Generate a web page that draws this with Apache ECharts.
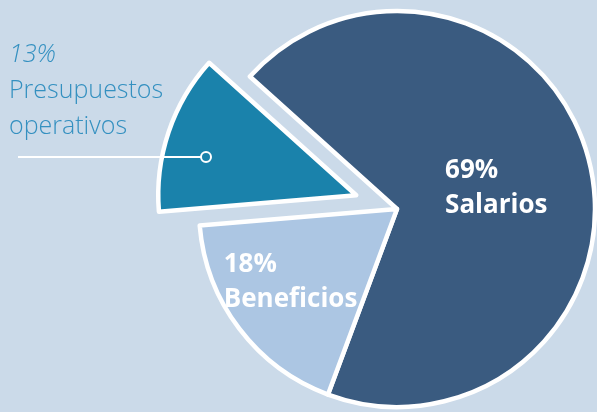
<!DOCTYPE html>
<html>
<head>
<meta charset="utf-8">
<script src="https://cdn.jsdelivr.net/npm/echarts@6/dist/echarts.min.js"></script>
<style>
  html, body { margin: 0; padding: 0; background: #cbdae9; }
  #chart { width: 597px; height: 412px; }
</style>
</head>
<body>
<div id="chart"></div>
<script>
// datos del gráfico
var categories = ['Salarios', 'Beneficios', 'Presupuestos operativos'];
var shares = [69, 18, 13];
var colors = ['#3a5b80', '#acc6e3', '#1a82ab'];
var explodedIndex = 2;

var labelTeal = '#3490c0';
var labelWidths = [108, 136];

function insideLabel(width) {
  return {
    show: true,
    position: 'inside',
    formatter: function (p) { return '{a|' + p.value + '%}\n{a|' + p.name + '}'; },
    rich: {
      a: { color: '#fff', fontFamily: 'Open Sans', fontWeight: 'bold', fontSize: 26, lineHeight: 35, width: width, align: 'left' }
    }
  };
}

var pieData = categories.map(function (name, i) {
  return {
    name: name,
    value: shares[i],
    selected: i === explodedIndex,
    itemStyle: { color: colors[i] },
    label: i === explodedIndex ? { show: false } : insideLabel(labelWidths[i]),
    labelLine: { show: false }
  };
});

// texto de la porción separada, fuera del pastel
var outsideText = '{i|' + shares[explodedIndex] + '%}\n' +
  categories[explodedIndex].split(' ').map(function (w) { return '{t|' + w + '}'; }).join('\n');

var myChart = echarts.init(document.getElementById('chart'));
myChart.setOption({
  animation: false,
  backgroundColor: '#cbdae9',
  series: [{
    type: 'pie',
    center: [397, 209],
    radius: 198,
    startAngle: 138,
    clockwise: true,
    selectedMode: 'single',
    selectedOffset: 43,
    emphasis: { disabled: true },
    itemStyle: { borderColor: '#fff', borderWidth: 4.5 },
    data: pieData,
    labelLayout: function (p) {
      if (p.dataIndex === 1) return { dx: -24, dy: 11 };
      return { dx: 3, dy: 3 };
    }
  }],
  graphic: [
    {
      type: 'text',
      left: 9,
      top: 42,
      style: {
        text: outsideText,
        rich: {
          i: { fill: labelTeal, fontFamily: 'Open Sans', fontStyle: 'italic', fontWeight: 300, fontSize: 25, lineHeight: 37 },
          t: { fill: labelTeal, fontFamily: 'Open Sans', fontWeight: 300, fontSize: 25, lineHeight: 36 }
        }
      }
    },
    {
      type: 'line',
      shape: { x1: 18, y1: 157, x2: 206, y2: 157 },
      style: { stroke: '#fff', lineWidth: 2 },
      z: 99
    },
    {
      type: 'circle',
      shape: { cx: 206, cy: 157, r: 5 },
      style: { fill: colors[explodedIndex], stroke: '#fff', lineWidth: 2 },
      z: 100
    }
  ]
});
</script>
</body>
</html>
